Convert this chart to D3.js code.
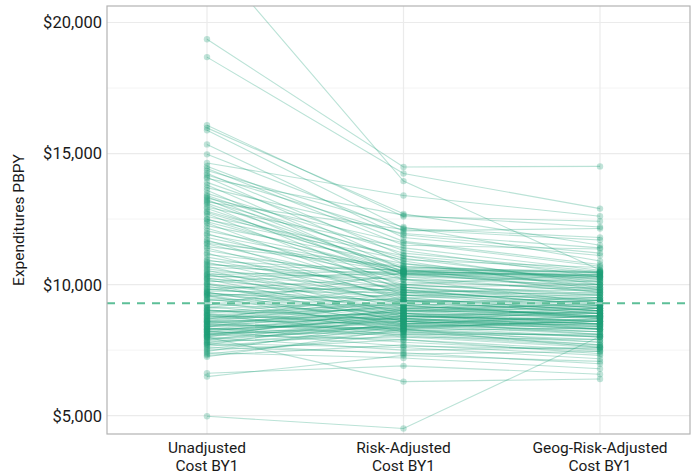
<!DOCTYPE html>
<html>
<head>
<meta charset="utf-8">
<script src="https://cdn.jsdelivr.net/npm/d3@7"></script>
<style>
  body { margin: 0; background: #fff; }
  text { font-family: Roboto, "Open Sans", sans-serif; }
</style>
</head>
<body>
<div id="chart"></div>
<script>
const categories = ["Unadjusted Cost BY1", "Risk-Adjusted Cost BY1", "Geog-Risk-Adjusted Cost BY1"];
const categoryLines = [["Unadjusted", "Cost BY1"], ["Risk-Adjusted", "Cost BY1"], ["Geog-Risk-Adjusted", "Cost BY1"]];
const yTicks = [5000, 10000, 15000, 20000];
const yMinorTicks = [7500, 12500, 17500];
const benchmark = 9290;

// one entry per provider, same order in all three arrays
const unadjusted = [
  22700, 19360, 18680, 16080, 15980, 15890, 15350, 14970, 14640, 14520, 14430, 14350, 14250, 14180, 14100,
  13900, 13800, 13700, 13600, 13480, 13400, 13350, 13300, 13250, 13200, 13100, 13050,
  12950, 12900, 12800, 12750, 12700, 12600, 12500, 12400, 12350, 12250, 12150, 12050,
  11950, 11900, 11800, 11700, 11650, 11550, 11450, 11400, 11300, 11200, 11150, 11050,
  10950, 10900, 10850, 10800, 10700, 10650, 10600, 10550, 10500, 10450, 10400, 10350, 10300, 10250, 10200, 10150, 10100, 10050, 10000,
  9950, 9900, 9850, 9800, 9700, 9650, 9600, 9550, 9500, 9450, 9400, 9350, 9300, 9250, 9200, 9150, 9100, 9050, 9000, 9000,
  8950, 8900, 8850, 8800, 8800, 8750, 8700, 8650, 8600, 8600, 8550, 8500, 8500, 8450, 8400, 8400, 8350, 8300, 8300, 8250,
  8200, 8200, 8150, 8100, 8100, 8050, 8000, 8000, 7950, 7900,
  7850, 7800, 7750, 7700, 7650, 7600, 7550, 7500, 7450, 7400, 7350, 7300, 7250, 6620, 6490, 4975,
  10750, 10380, 9750, 9120, 8680, 8320, 8120, 8020, 8870, 9580, 10020, 11580, 12480, 13150, 14050, 7980, 8230, 9680, 8560, 7720,
  8180, 8280, 8380, 8480, 8580, 8720, 8820, 8920, 9020, 9220, 9420, 9620, 9820, 7880, 7780, 8070, 8430, 8630, 9720, 10230
];
const riskAdjusted = [
  13950, 14490, 14240, 12600, 12700, 12150, 11800, 12050, 13400, 11650, 11500, 12200, 11100, 11900, 10800,
  11300, 10600, 11950, 10380, 11200, 10900, 10480, 11600, 10200, 11000, 10620, 9900,
  11400, 10400, 10700, 10520, 9800, 11100, 10300, 10430, 9600, 10800, 10000, 10560,
  9700, 10500, 10200, 9400, 10460, 9900, 10650, 9500, 10100, 9200, 10350, 9800,
  9600, 10540, 9300, 10000, 9100, 10420, 9700, 8900, 10200, 9400, 8800, 9900, 10400, 9200, 8700, 9600, 10500, 9000, 9500,
  8600, 9800, 9100, 10300, 8800, 9400, 8500, 10000, 9000, 8700, 9600, 8400, 9200, 8900, 10450, 8600, 9300, 8300, 9000, 8800,
  9500, 8400, 9100, 8700, 8200, 9400, 8900, 8500, 8000, 9200, 8700, 9000, 8300, 8800, 8600, 9300, 7800, 8900, 8500, 8700,
  8100, 9000, 8400, 8800, 7900, 8600, 9100, 6300, 8300, 8700,
  8000, 8500, 7600, 8800, 8200, 7400, 8400, 7900, 8600, 7200, 8100, 7700, 8300, 6900, 7300, 4510,
  10550, 10520, 9700, 9900, 9700, 8150, 8350, 8450, 8050, 8200, 8600, 10680, 10950, 12100, 12650, 7500, 7650, 9200, 8950, 7350,
  8750, 8600, 9050, 8250, 8800, 9150, 8550, 9250, 8650, 9450, 8900, 9050, 9350, 8450, 8250, 8900, 8350, 9350, 8450, 9750
];
const geogAdjusted = [
  10560, 14510, 12900, 12420, 11500, 11800, 11110, 12140, 12610, 10770, 11360, 10900, 10450, 11200, 9900,
  10300, 9700, 11400, 10150, 10500, 9800, 10400, 10700, 9300, 10100, 10450, 9500,
  10550, 9900, 10300, 10350, 9200, 10000, 9700, 10250, 9100, 10200, 9600, 10450,
  9400, 10000, 9750, 8900, 10300, 9300, 10500, 9000, 9850, 8800, 10100, 9200,
  9500, 10300, 8700, 9650, 8900, 10200, 9100, 8500, 10000, 9300, 8600, 9400, 10380, 8800, 8300, 9700, 10330, 8900, 9000,
  8400, 9600, 9200, 10100, 8500, 8900, 8200, 10400, 8700, 9100, 9300, 8000, 9500, 8300, 9800, 8800, 9000, 7800, 9300, 8600,
  9600, 8500, 8800, 8900, 7900, 9200, 8600, 8700, 7600, 9400, 8400, 9100, 8000, 9000, 8300, 9500, 7450, 9200, 8800, 8500,
  7700, 8900, 8600, 9100, 7360, 8300, 9400, 6400, 8700, 8500,
  7900, 8800, 7170, 8600, 7700, 6980, 8300, 7500, 9000, 6790, 8100, 7300, 7600, 6580, 7070, 8020,
  10500, 10250, 9900, 10000, 9800, 7800, 8200, 8400, 7650, 8050, 8100, 10450, 10650, 11700, 12200, 7600, 7550, 8750, 9300, 7450,
  8950, 8450, 8750, 8350, 8650, 9000, 8200, 9100, 8450, 9000, 8800, 9400, 9250, 8100, 8000, 8750, 8600, 9150, 8600, 9250
];

const W = 696, H = 476;
const panel = { left: 107, right: 690, top: 6, bottom: 434 };
const green = "#1b9e77";

const svg = d3.select("#chart").append("svg")
  .attr("width", W)
  .attr("height", H);

const x = d3.scalePoint()
  .domain(categories)
  .range([207, 600]);

const y = d3.scaleLinear()
  .domain([4300, 20630])
  .range([panel.bottom, panel.top]);

svg.append("clipPath").attr("id", "clip")
  .append("rect")
  .attr("x", panel.left).attr("y", panel.top)
  .attr("width", panel.right - panel.left)
  .attr("height", panel.bottom - panel.top);

// grid
const grid = svg.append("g");
grid.selectAll(".minor").data(yMinorTicks).enter().append("line")
  .attr("x1", panel.left).attr("x2", panel.right)
  .attr("y1", d => y(d)).attr("y2", d => y(d))
  .attr("stroke", "#f4f4f4").attr("stroke-width", 1);
grid.selectAll(".major").data(yTicks).enter().append("line")
  .attr("x1", panel.left).attr("x2", panel.right)
  .attr("y1", d => y(d)).attr("y2", d => y(d))
  .attr("stroke", "#ebebeb").attr("stroke-width", 1.2);
grid.selectAll(".vert").data(categories).enter().append("line")
  .attr("x1", d => x(d)).attr("x2", d => x(d))
  .attr("y1", panel.top).attr("y2", panel.bottom)
  .attr("stroke", "#ebebeb").attr("stroke-width", 1.2);

// build the rows
const rows = unadjusted.map((u, i) => [u, riskAdjusted[i], geogAdjusted[i]]);

const plot = svg.append("g").attr("clip-path", "url(#clip)");

const line = d3.line()
  .x((d, i) => x(categories[i]))
  .y(d => y(d));

plot.selectAll("path.provider").data(rows).enter().append("path")
  .attr("class", "provider")
  .attr("d", line)
  .attr("fill", "none")
  .attr("stroke", green)
  .attr("stroke-opacity", 0.3)
  .attr("stroke-width", 1.1);

rows.forEach(r => {
  plot.selectAll(null).data(r).enter().append("circle")
    .attr("cx", (d, i) => x(categories[i]))
    .attr("cy", d => y(d))
    .attr("r", 3.2)
    .attr("fill", green)
    .attr("fill-opacity", 0.28);
});

// benchmark line
plot.append("line")
  .attr("x1", panel.left).attr("x2", panel.right)
  .attr("y1", y(benchmark)).attr("y2", y(benchmark))
  .attr("stroke", "#ffffff").attr("stroke-opacity", 0.55)
  .attr("stroke-width", 2);
plot.append("line")
  .attr("x1", panel.left).attr("x2", panel.right)
  .attr("y1", y(benchmark)).attr("y2", y(benchmark))
  .attr("stroke", "#5dbf98")
  .attr("stroke-width", 2)
  .attr("stroke-dasharray", "8,7");

// panel border
svg.append("rect")
  .attr("x", panel.left).attr("y", panel.top)
  .attr("width", panel.right - panel.left)
  .attr("height", panel.bottom - panel.top)
  .attr("fill", "none")
  .attr("stroke", "#b3b3b3")
  .attr("stroke-width", 1.2);

// y axis labels
svg.selectAll(".ylab").data(yTicks).enter().append("text")
  .attr("x", 102)
  .attr("y", d => y(d))
  .attr("dy", "0.36em")
  .attr("text-anchor", "end")
  .attr("font-size", 16.5)
  .attr("fill", "#1a1a1a")
  .text(d => d3.format("$,")(d));

// x axis labels
const xl = svg.selectAll(".xlab").data(categories).enter().append("text")
  .attr("text-anchor", "middle")
  .attr("font-size", 15.5)
  .attr("fill", "#1a1a1a");
xl.each(function(d, i) {
  const t = d3.select(this);
  categoryLines[i].forEach((s, k) => {
    t.append("tspan")
      .attr("x", x(d))
      .attr("y", 453 + k * 17.5)
      .text(s);
  });
});

// y title
svg.append("text")
  .attr("transform", "translate(24," + (panel.top + panel.bottom) / 2 + ") rotate(-90)")
  .attr("text-anchor", "middle")
  .attr("font-size", 15.5)
  .attr("fill", "#1a1a1a")
  .text("Expenditures PBPY");
</script>
</body>
</html>
